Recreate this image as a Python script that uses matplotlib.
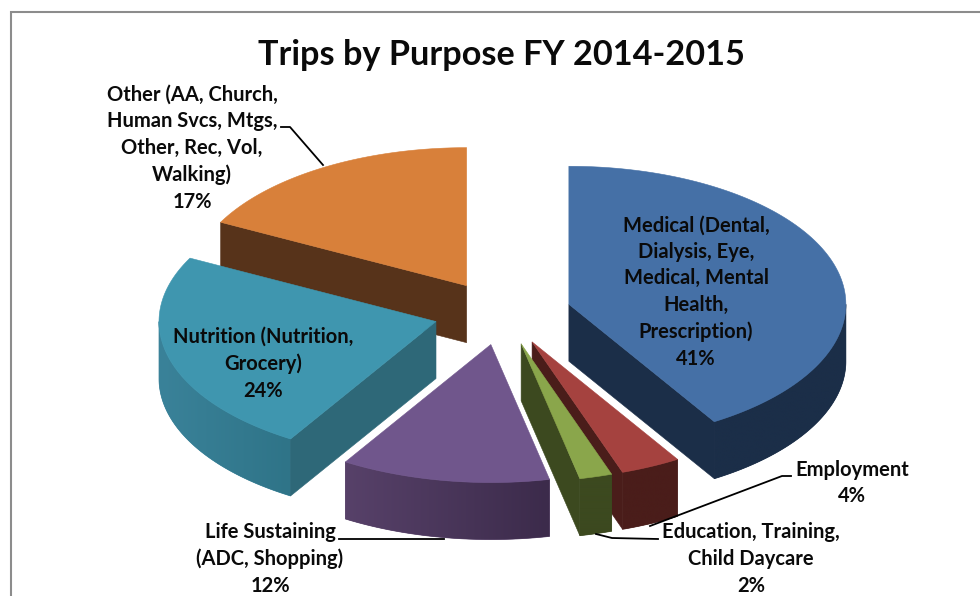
#Imports
import numpy as np
import matplotlib
matplotlib.use("Agg")
import matplotlib.pyplot as plt
from matplotlib.patches import Polygon
from matplotlib.colors import to_rgb

plt.rcParams['font.family'] = ['Lato', 'DejaVu Sans']

#Chart data, clockwise from 12 o'clock
title = "Trips by Purpose FY 2014-2015"
labels = ["Medical (Dental,\nDialysis, Eye,\nMedical, Mental\nHealth,\nPrescription)",
          "Employment",
          "Education, Training,\nChild Daycare",
          "Life Sustaining\n(ADC, Shopping)",
          "Nutrition (Nutrition,\nGrocery)",
          "Other (AA, Church,\nHuman Svcs, Mtgs,\nOther, Rec, Vol,\nWalking)"]
values = [41.2, 3.5, 1.9, 12.2, 23.8, 17.4]
percent_text = ["41%", "4%", "2%", "12%", "24%", "17%"]

#Colours: top face, radial cut face, outer wall at the start and end of the arc
top_colors = ["#4570A6", "#A5423F", "#8AA64B", "#70568C", "#3F96AF", "#D8803A"]
cut_colors = ["#1B2E48", "#4A1D1A", "#3C491F", "#3F2F50", "#2E6878", "#57331A"]
wall_start = ["#1B2E48", "#4A1D1A", "#3C491F", "#3C2B4B", "#2F7488", "#57331A"]
wall_end = ["#1B2E48", "#4A1D1A", "#3C491F", "#574169", "#3A8299", "#57331A"]

#Pie projection, in pixels of the 980x596 picture
cx, cy = 502.5, 313.0
rx, ry = 277.0, 138.0
ex, ey = 69.0, 32.0
depth = 57.0

#Label positions (centre of each text block), same order as the slices
label_pos = [(696, 292), (852, 483), (751, 559), (270, 559), (263, 364), (192, 148)]
label_size = 14.5
label_spacing = 1.41

#Leader lines for the outside labels
leaders = [[(650, 526), (782, 476), (791, 476)],
           [(596, 534), (612, 538), (658, 539)],
           [(339, 539), (444, 539)],
           [(281, 127), (290, 127), (323, 165)]]


#Point on the ellipse around an apex, angle in degrees clockwise from the top
def rim(ax0, ay0, deg):
    t = np.radians(deg)
    return ax0 + rx * np.sin(t), ay0 - ry * np.cos(t)


#Draws one slice: walls first, then the top face. z is the paint order
def draw_slice(ax, i, start, end, z):
    mid = np.radians((start + end) / 2)
    ax0 = cx + ex * np.sin(mid)
    ay0 = cy - ey * np.cos(mid)

    #outer wall is only seen on the front half of the ellipse, shaded along x
    lo, hi = max(start, 90.0), min(end, 270.0)
    if hi > lo:
        degs = np.linspace(lo, hi, 120)
        xs, ys = rim(ax0, ay0, degs)
        outline = np.r_[np.c_[xs, ys], np.c_[xs[::-1], ys[::-1] + depth]]
        base = Polygon(outline, closed=True, color=wall_end[i], lw=0.5, zorder=z)
        ax.add_patch(base)
        c1, c2 = np.array(to_rgb(wall_start[i])), np.array(to_rgb(wall_end[i]))
        f = np.linspace(0, 1, 64)[:, None]
        grad = (c1 + (c2 - c1) * f)[None, :, :]
        extent = (xs[0], xs[-1], ys.max() + depth, ys.min())
        im = ax.imshow(grad, extent=extent, aspect="auto", interpolation="bilinear", zorder=z + 0.1)
        im.set_clip_path(base)

    #radial cut faces, only the ones turned towards the viewer
    for deg, visible in [(start, np.sin(np.radians(start)) < -1e-6),
                         (end, np.sin(np.radians(end)) > 1e-6)]:
        if visible:
            x1, y1 = rim(ax0, ay0, deg)
            ax.fill([ax0, x1, x1, ax0], [ay0, y1, y1 + depth, ay0 + depth],
                    color=cut_colors[i], lw=0.4, zorder=z + 0.2)

    #top face
    degs = np.linspace(start, end, 120)
    xs, ys = rim(ax0, ay0, degs)
    ax.fill(np.r_[ax0, xs], np.r_[ay0, ys], color=top_colors[i], lw=0.4, zorder=z + 0.3)


fig = plt.figure(figsize=(9.8, 5.96), dpi=100, facecolor="white")
ax = fig.add_axes([0, 0, 1, 1])
ax.axis("off")

#Chart frame, runs off the right and bottom of the picture
ax.plot([10.5, 10.5, 980], [596, 11.5, 11.5], color="#8C8C8C", lw=1.5, solid_joinstyle="miter")

#Slice angles from the values
total = sum(values)
edges = np.r_[0, np.cumsum(values)] / total * 360.0

#Back to front: Other, Medical, Nutrition, Life Sustaining, Employment, Education
z = 2
for i in [5, 0, 4, 3, 1, 2]:
    draw_slice(ax, i, edges[i], edges[i + 1], z)
    z = z + 1

for line in leaders:
    ax.plot([p[0] for p in line], [p[1] for p in line], color="black", lw=1.3, zorder=z)

ax.text(501, 55, title, ha="center", va="center", fontsize=24.7, fontweight="bold", color="#0A0A0A", zorder=z + 1)

for i in range(len(labels)):
    ax.text(label_pos[i][0], label_pos[i][1], labels[i] + "\n" + percent_text[i],
            ha="center", va="center", multialignment="center", fontsize=label_size,
            fontweight="bold", linespacing=label_spacing, color="#0A0A0A", zorder=z + 1)

#imshow resets the limits, so set them last
ax.set_xlim(0, 980)
ax.set_ylim(596, 0)

plt.savefig("out.png", dpi=100)
